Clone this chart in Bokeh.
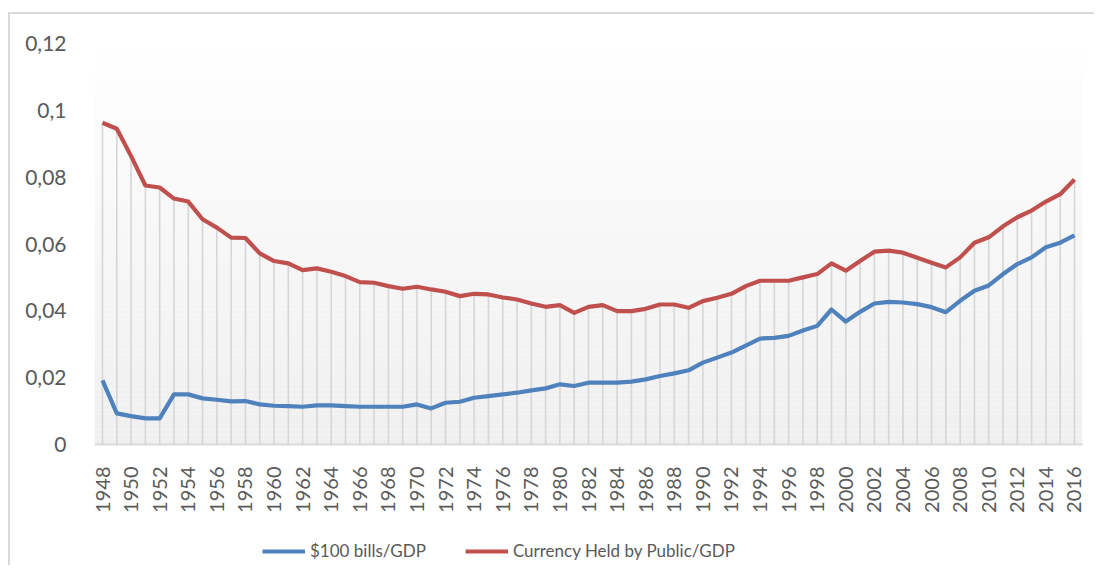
import numpy as np
from bokeh.plotting import figure
from bokeh.layouts import column
from bokeh.models import Range1d, FixedTicker, Legend, LegendItem
from bokeh.embed import file_html
from bokeh.resources import INLINE

years = list(range(1948, 2017))

currency_gdp = [
    0.0963, 0.0945, 0.0863, 0.0775, 0.0769, 0.0736, 0.0727, 0.0674, 0.0649, 0.0619,
    0.0618, 0.0572, 0.0549, 0.0542, 0.0522, 0.0527, 0.0517, 0.0504, 0.0486, 0.0484,
    0.0474, 0.0466, 0.0472, 0.0464, 0.0457, 0.0444, 0.0451, 0.0449, 0.0440, 0.0434,
    0.0422, 0.0412, 0.0417, 0.0394, 0.0412, 0.0417, 0.0399, 0.0399, 0.0406, 0.0419,
    0.0419, 0.0409, 0.0429, 0.0439, 0.0451, 0.0474, 0.0490, 0.0490, 0.0490, 0.0500,
    0.0510, 0.0542, 0.0520, 0.0549, 0.0577, 0.0580, 0.0574, 0.0559, 0.0544, 0.0530,
    0.0560, 0.0604, 0.0620, 0.0653, 0.0680, 0.0700, 0.0727, 0.0749, 0.0793,
]

bills100_gdp = [
    0.0192, 0.0093, 0.0085, 0.0078, 0.0078, 0.0150, 0.0150, 0.0138, 0.0134, 0.0129,
    0.0130, 0.0120, 0.0116, 0.0115, 0.0113, 0.0117, 0.0117, 0.0115, 0.0113, 0.0113,
    0.0113, 0.0113, 0.0120, 0.0108, 0.0125, 0.0128, 0.0140, 0.0145, 0.0150, 0.0155,
    0.0162, 0.0168, 0.0180, 0.0175, 0.0185, 0.0185, 0.0185, 0.0188, 0.0195, 0.0205,
    0.0213, 0.0222, 0.0245, 0.0260, 0.0275, 0.0296, 0.0317, 0.0319, 0.0325, 0.0341,
    0.0355, 0.0404, 0.0368, 0.0397, 0.0422, 0.0427, 0.0425, 0.0420, 0.0411, 0.0396,
    0.0430, 0.0460, 0.0476, 0.0510, 0.0540, 0.0560, 0.0590, 0.0604, 0.0626,
]

y_ticks = [0, 0.02, 0.04, 0.06, 0.08, 0.1, 0.12]
y_tick_labels = ["0", "0,02", "0,04", "0,06", "0,08", "0,1", "0,12"]
x_ticks = list(range(1948, 2017, 2))

FONT = "Lato"
TXT = "#595959"
BORDER = "2px solid #d9d9d9"
BLUE = "#4f81bd"
RED = "#c0504d"

p = figure(width=1086, height=501, output_backend="svg", toolbar_location=None,
           x_range=Range1d(1947.44, 2016.56), y_range=Range1d(0, 0.12),
           min_border_left=84, min_border_right=14, min_border_top=29,
           min_border_bottom=70, margin=(12, 0, 0, 8))
p.styles = {"border-top": BORDER, "border-left": BORDER}
p.outline_line_color = None
p.background_fill_color = "white"
p.border_fill_color = "white"
p.xgrid.visible = False
p.ygrid.visible = False

# background gradient of plot area
n = 80
edges = np.linspace(0, 0.12, n + 1)
shades = np.linspace(240, 255, n)
cols = ["#%02x%02x%02x" % (int(s), int(s), int(s)) for s in shades]
p.quad(left=1947.44, right=2016.56, bottom=edges[:-1], top=edges[1:],
       fill_color=cols, line_color=None)

# drop lines
tops = [max(a, b) for a, b in zip(currency_gdp, bills100_gdp)]
p.segment(x0=years, y0=0, x1=years, y1=tops, line_color="#d6d6d6", line_width=1.6)

p.line(years, bills100_gdp, line_color=BLUE, line_width=4.2, line_join="round")
p.line(years, currency_gdp, line_color=RED, line_width=4.2, line_join="round")

p.yaxis.ticker = FixedTicker(ticks=y_ticks)
p.yaxis.major_label_overrides = {t: l for t, l in zip(y_ticks, y_tick_labels)}
p.yaxis.axis_line_color = None
p.yaxis.major_tick_line_color = None
p.yaxis.minor_tick_line_color = None
p.yaxis.major_label_standoff = 22
p.yaxis.major_label_text_font = FONT
p.yaxis.major_label_text_font_size = "21px"
p.yaxis.major_label_text_color = TXT

p.xaxis.ticker = FixedTicker(ticks=x_ticks)
p.xaxis.major_label_orientation = np.pi / 2
p.xaxis.axis_line_color = "#d9d9d9"
p.xaxis.axis_line_width = 2
p.xaxis.major_tick_line_color = None
p.xaxis.minor_tick_line_color = None
p.xaxis.major_label_standoff = 16
p.xaxis.major_label_text_font = FONT
p.xaxis.major_label_text_font_size = "20px"
p.xaxis.major_label_text_color = TXT

# legend strip below the chart (series drawn out of view, only used for legend)
p2 = figure(width=1086, height=52, output_backend="svg", toolbar_location=None,
            x_range=Range1d(0, 1), y_range=Range1d(0, 1),
            x_axis_location=None, y_axis_location=None,
            min_border=0, margin=(0, 0, 0, 8))
p2.styles = {"border-left": BORDER}
p2.grid.visible = False
p2.outline_line_color = None
p2.border_fill_color = "white"
p2.background_fill_color = "white"
lb = p2.line(years, bills100_gdp, line_color=BLUE, line_width=4.2)
lr = p2.line(years, currency_gdp, line_color=RED, line_width=4.2)

legend = Legend(items=[LegendItem(label="$100 bills/GDP", renderers=[lb]),
                       LegendItem(label="Currency Held by Public/GDP", renderers=[lr])],
                orientation="horizontal", location=(168, 4))
legend.label_text_font = FONT
legend.label_text_font_size = "17px"
legend.label_text_color = TXT
legend.glyph_width = 43
legend.label_standoff = 5
legend.spacing = 39
legend.padding = 0
legend.margin = 0
legend.border_line_color = None
legend.background_fill_alpha = 0
p2.add_layout(legend)

layout = column(p, p2, spacing=0)
open("out.html", "w").write(file_html(layout, INLINE))
